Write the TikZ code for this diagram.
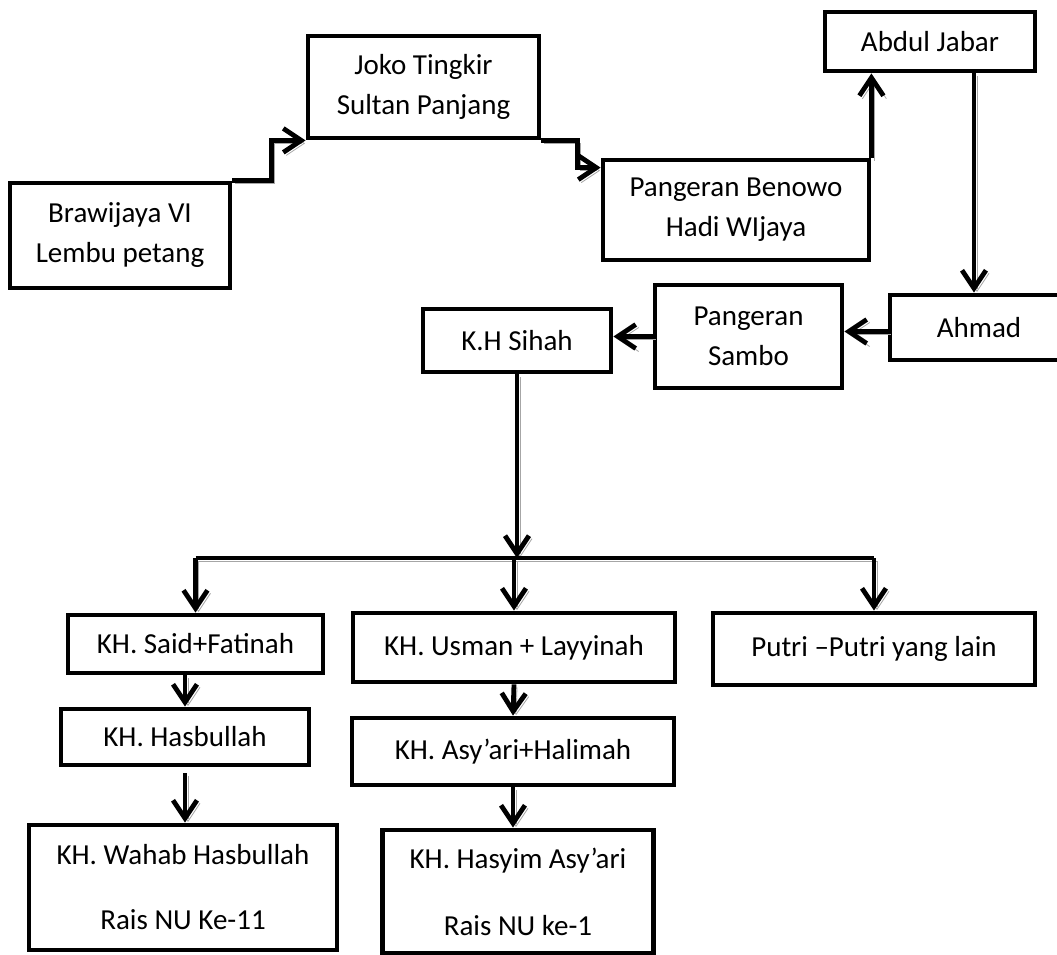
\documentclass[tikz,border=0pt]{standalone}
\usepackage{fontspec}
\setmainfont{Carlito}
\usepackage{tikz}
\usetikzlibrary{calc}
\usetikzlibrary{arrows.meta}

\begin{document}
\begin{tikzpicture}[x=0.5pt,y=-0.5pt,
  box/.style={draw,line width=2.4pt,align=center,inner sep=0pt,font=\fontsize{14.5}{20}\selectfont},
  link/.style={line width=2.4pt,preaction={draw=black!35,transform canvas={shift={(1.5pt,-1.5pt)}}}},
  arr/.style={link,-{Straight Barb[length=9pt,width=12pt]}}]

\useasboundingbox (0,0) rectangle (1057,955);

\node[box,minimum width=110pt,minimum height=52.5pt] (braw) at (120,235.5) {Brawijaya VI\\Lembu petang};
\node[box,minimum width=115.5pt,minimum height=51pt] (joko) at (423.5,87) {Joko Tingkir\\Sultan Panjang};
\node[box,minimum width=133pt,minimum height=50pt] (beno) at (736,210) {Pangeran Benowo\\Hadi WIjaya};
\node[box,minimum width=105pt,minimum height=29.5pt] (abdul) at (930,41.5) {Abdul Jabar};
\node[box,minimum width=89pt,minimum height=32.5pt] (ahmad) at (979,327.5) {Ahmad};
\node[box,minimum width=93.5pt,minimum height=51.5pt] (sambo) at (748.5,336.5) {Pangeran\\Sambo};
\node[box,minimum width=94pt,minimum height=31.5pt] (sihah) at (517,340.5) {K.H Sihah};

\node[box,minimum width=127.5pt,minimum height=29pt] (said) at (195.5,644) {KH. Said+Fatinah};
\node[box,minimum width=161pt,minimum height=34.5pt] (usman) at (514,647.5) {KH. Usman + Layyinah};
\node[box,minimum width=161pt,minimum height=36pt] (putri) at (874,649) {Putri –Putri yang lain};
\node[box,minimum width=124pt,minimum height=28pt] (hasb) at (185,737) {KH. Hasbullah};
\node[box,minimum width=161pt,minimum height=33.5pt] (asyari) at (513,751.5) {KH. Asy’ari+Halimah};
\node[box,minimum width=154pt,minimum height=62.5pt] (wahab) at (183,887.5) {KH. Wahab Hasbullah\\[12.5pt]Rais NU Ke-11};
\node[box,minimum width=135.5pt,minimum height=61.5pt] (hasyim) at (518,891.5) {KH. Hasyim Asy’ari\\[13.5pt]Rais NU ke-1};

\coordinate (bar) at (517,558);

\draw[arr] (braw.north east) -- ++(39,0) |- (joko.south west);
\draw[arr] (joko.south east) -- ++(36,0) |- ([yshift=-5pt]beno.north west);
\draw[arr] (beno.north east) -- (beno.north east |- abdul.south);
\draw[arr] ([xshift=22pt]abdul.south) -- ([xshift=22pt]abdul.south |- ahmad.north);
\draw[arr] ([yshift=-2pt]ahmad.west) -- ([yshift=-2pt]ahmad.west -| sambo.east);
\draw[arr] (sambo.west) -- (sambo.west -| sihah.east);
\draw[arr] (sihah.south) -- (bar);

\draw[link] (said.north |- bar) -- (putri.north |- bar);
\draw[arr] (said.north |- bar) -- (said.north);
\draw[arr] (usman.north |- bar) -- (usman.north);
\draw[arr] (putri.north |- bar) -- (putri.north);

\draw[arr] (said.south -| hasb.north) -- (hasb.north);
\draw[arr] ([yshift=-3pt]hasb.south) -- (hasb.south |- wahab.north);
\draw[arr] (usman.south) -- (asyari.north);
\draw[arr] (asyari.south) -- (asyari.south |- hasyim.north);

\end{tikzpicture}
\end{document}
